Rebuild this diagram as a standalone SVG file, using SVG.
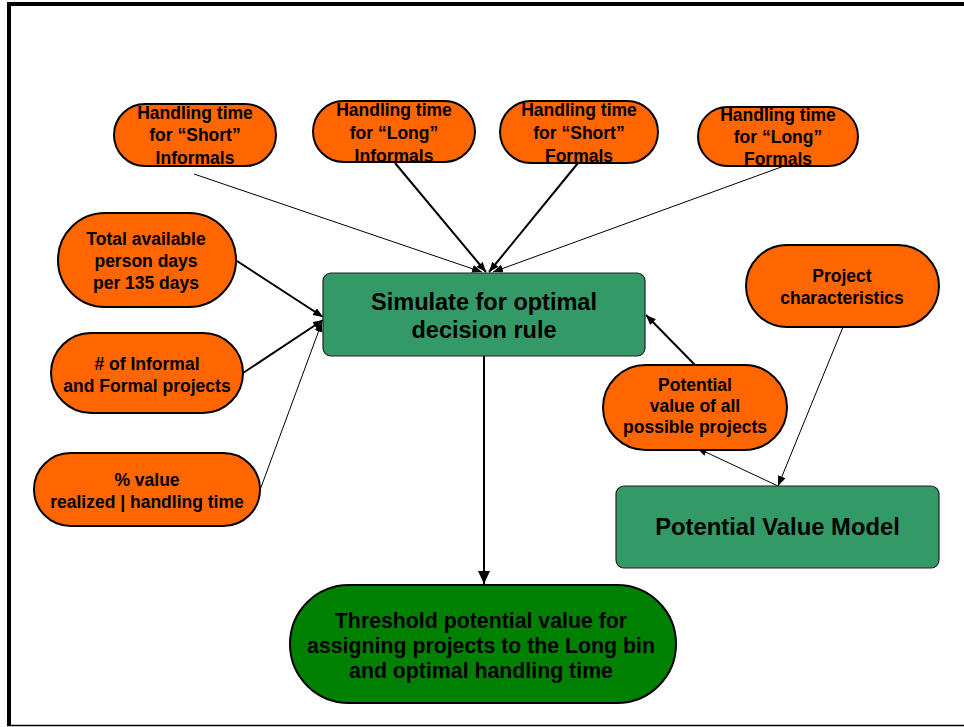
<svg xmlns="http://www.w3.org/2000/svg" width="964" height="727" viewBox="0 0 964 727">
<style>
.pill{fill:#FF6600;stroke:#000;stroke-width:2}
.box{fill:#339966;stroke:#222;stroke-width:1.2}
.dark{fill:#008000;stroke:#000;stroke-width:2}
text{font-family:"Liberation Sans",Arial,sans-serif;font-weight:bold;fill:#000;text-anchor:middle}
.s{font-size:17.5px}
.m{font-size:23.5px}
.l{font-size:21.3px}
.thin{stroke:#000;stroke-width:1;fill:none}
.thick{stroke:#000;stroke-width:2;fill:none}
</style>
<defs>
<marker id="a" markerUnits="userSpaceOnUse" markerWidth="12" markerHeight="10" refX="10" refY="4" orient="auto"><path d="M0,0 L10,4 L0,8 z" fill="#000"/></marker>
<marker id="b" markerUnits="userSpaceOnUse" markerWidth="14" markerHeight="14" refX="13" refY="6" orient="auto"><path d="M0,0 L13,6 L0,12 z" fill="#000"/></marker>
</defs>
<rect width="964" height="727" fill="#fff"/>
<g id="frame">
<rect x="7" y="2" width="957" height="4" fill="#000"/>
<rect x="7" y="2" width="4" height="724" fill="#000"/>
<line x1="7" y1="725.5" x2="964" y2="725.5" stroke="#000" stroke-width="1.5"/>
</g>
<g id="connectors">
<line class="thin" x1="194" y1="174" x2="482" y2="272" marker-end="url(#a)"/>
<line class="thick" x1="395" y1="163" x2="486" y2="272" marker-end="url(#a)"/>
<line class="thick" x1="578" y1="163" x2="489" y2="272" marker-end="url(#a)"/>
<line class="thin" x1="784" y1="166" x2="493" y2="272" marker-end="url(#a)"/>
<line class="thick" x1="237" y1="261" x2="323" y2="317" marker-end="url(#a)"/>
<line class="thick" x1="243" y1="373" x2="323" y2="320" marker-end="url(#a)"/>
<line class="thin" x1="260" y1="490" x2="322" y2="322" marker-end="url(#a)"/>
<line class="thick" x1="484" y1="356" x2="484" y2="584" marker-end="url(#b)"/>
<line class="thick" x1="695" y1="365" x2="646" y2="315" marker-end="url(#a)"/>
<line class="thin" x1="843" y1="327" x2="778" y2="486" marker-end="url(#a)"/>
<line class="thin" x1="778" y1="486" x2="697" y2="448" marker-end="url(#a)"/>
</g>
<g id="n-short-inf">
<rect class="pill" x="114" y="104" width="162" height="62" rx="31"/>
<text class="s" x="195" y="119">Handling time</text>
<text class="s" x="195" y="141">for “Short”</text>
<text class="s" x="195" y="164">Informals</text>
</g>
<g id="n-long-inf">
<rect class="pill" x="313" y="101" width="162" height="61" rx="30.5"/>
<text class="s" x="394" y="116">Handling time</text>
<text class="s" x="394" y="139">for “Long”</text>
<text class="s" x="394" y="162">Informals</text>
</g>
<g id="n-short-form">
<rect class="pill" x="500" y="101" width="158" height="62" rx="31"/>
<text class="s" x="579" y="116">Handling time</text>
<text class="s" x="579" y="139">for “Short”</text>
<text class="s" x="579" y="162">Formals</text>
</g>
<g id="n-long-form">
<rect class="pill" x="698" y="107" width="160" height="59" rx="29.5"/>
<text class="s" x="778" y="121">Handling time</text>
<text class="s" x="778" y="143">for “Long”</text>
<text class="s" x="778" y="165">Formals</text>
</g>
<g id="n-total">
<rect class="pill" x="58" y="213" width="178" height="94" rx="47"/>
<text class="s" x="146" y="245">Total available</text>
<text class="s" x="146" y="267">person days</text>
<text class="s" x="146" y="289">per 135 days</text>
</g>
<g id="n-count">
<rect class="pill" x="51" y="333" width="192" height="80" rx="40"/>
<text class="s" x="147" y="370"># of Informal</text>
<text class="s" x="147" y="392">and Formal projects</text>
</g>
<g id="n-pct">
<rect class="pill" x="34" y="453" width="226" height="73" rx="36.5"/>
<text class="s" x="147" y="486">% value</text>
<text class="s" x="147" y="508">realized | handling time</text>
</g>
<g id="n-sim">
<rect class="box" x="323" y="273" width="322" height="83" rx="8"/>
<text class="m" x="484" y="310">Simulate for optimal</text>
<text class="m" x="484" y="338">decision rule</text>
</g>
<g id="n-proj">
<rect class="pill" x="746" y="245" width="193" height="82" rx="41"/>
<text class="s" x="842" y="282">Project</text>
<text class="s" x="842" y="304">characteristics</text>
</g>
<g id="n-potval">
<rect class="pill" x="603" y="365" width="184" height="85" rx="42.5"/>
<text class="s" x="695" y="391">Potential</text>
<text class="s" x="695" y="412">value of all</text>
<text class="s" x="695" y="433">possible projects</text>
</g>
<g id="n-model">
<rect class="box" x="616" y="486" width="323" height="82" rx="8"/>
<text class="m" x="777.5" y="535" style="font-size:23.8px">Potential Value Model</text>
</g>
<g id="n-thresh">
<rect class="dark" x="290" y="585" width="386" height="118" rx="59"/>
<text class="l" x="481" y="628">Threshold potential value for</text>
<text class="l" x="481" y="653">assigning projects to the Long bin</text>
<text class="l" x="481" y="678">and optimal handling time</text>
</g>
</svg>
